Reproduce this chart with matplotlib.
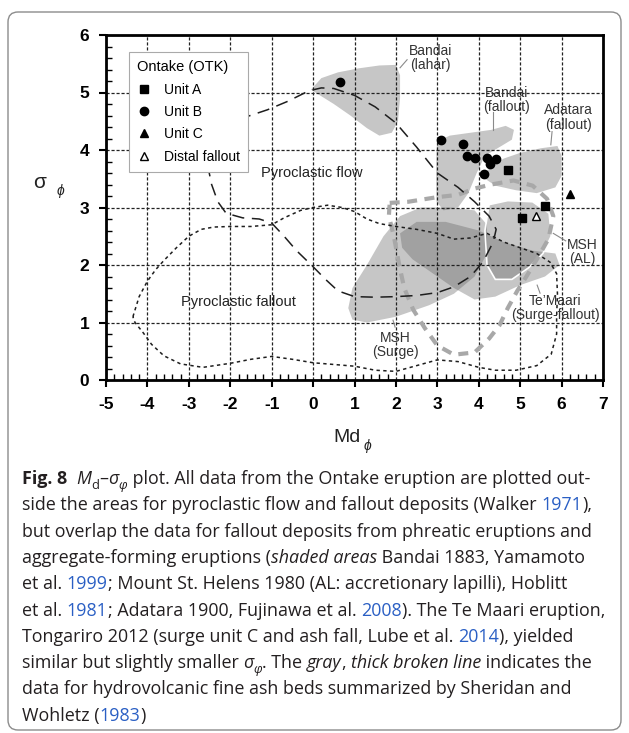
import matplotlib
matplotlib.use("Agg")
from matplotlib import pyplot as plt
from matplotlib.lines import Line2D
from matplotlib.patches import FancyBboxPatch
from matplotlib.ticker import MultipleLocator
from matplotlib.transforms import IdentityTransform

plt.rcParams['font.family'] = ['Liberation Sans', 'DejaVu Sans']

# Ontake samples (Md_phi, sigma_phi)
unit_a_md = [4.70, 5.59, 5.04]
unit_a_sd = [3.66, 3.03, 2.82]
unit_b_md = [0.65, 3.10, 3.62, 3.71, 3.91, 4.20, 4.28, 4.42, 4.13]
unit_b_sd = [5.19, 4.17, 4.10, 3.90, 3.86, 3.86, 3.76, 3.84, 3.59]
unit_c_md = [6.21]
unit_c_sd = [3.23]
distal_md = [5.39]
distal_sd = [2.86]

# shaded areas
lahar_md = [-0.05, 0.2, 0.6, 1.1, 1.6, 2.0, 2.1, 2.1, 2.05, 1.9, 1.6, 1.3, 0.9, 0.5, 0.1]
lahar_sd = [5.05, 5.25, 5.35, 5.42, 5.47, 5.48, 5.3, 4.9, 4.5, 4.3, 4.25, 4.38, 4.6, 4.8, 4.98]
bfall_md = [3.0, 3.3, 3.8, 4.3, 4.65, 4.85, 4.8, 4.5, 4.15, 3.95, 3.75, 3.5, 3.15, 2.98, 2.97, 2.98]
bfall_sd = [4.15, 4.25, 4.3, 4.35, 4.42, 4.35, 4.18, 4.05, 3.9, 3.6, 3.25, 3.0, 2.95, 3.1, 3.6, 4.0]
adatara_md = [4.05, 4.3, 4.6, 5.0, 5.5, 5.9, 6.0, 6.0, 5.85, 5.4, 4.9, 4.4]
adatara_sd = [3.55, 3.7, 3.85, 3.95, 4.03, 4.07, 3.9, 3.55, 3.35, 3.25, 3.3, 3.38]
surge_md = [0.85, 0.95, 1.3, 1.7, 2.1, 2.6, 3.3, 3.9, 4.2, 4.2, 3.9, 3.4, 2.8, 2.0, 1.3, 0.95]
surge_sd = [1.25, 1.6, 2.0, 2.5, 2.85, 3.0, 3.0, 2.95, 2.7, 2.2, 1.8, 1.5, 1.3, 1.1, 1.0, 1.05]
temaari_md = [2.1, 2.5, 3.2, 4.0, 4.6, 5.3, 5.85, 5.95, 5.6, 5.0, 4.4, 3.9, 3.4, 2.9, 2.4, 2.15]
temaari_sd = [2.55, 2.75, 2.75, 2.6, 2.4, 2.25, 2.2, 2.0, 1.8, 1.65, 1.45, 1.4, 1.6, 1.85, 2.1, 2.3]
al_md = [4.25, 4.7, 5.3, 5.7, 5.75, 5.55, 5.2, 4.8, 4.4, 4.2, 4.15]
al_sd = [3.05, 3.12, 3.1, 2.9, 2.5, 2.2, 1.95, 1.75, 1.75, 2.0, 2.6]

# Sheridan & Wohletz (1983) hydrovolcanic field
sw_md = [1.85, 2.3, 3.0, 3.5, 3.9, 4.3, 4.84, 5.3, 5.65, 5.8, 5.68, 5.42, 5.15, 4.93, 4.7, 4.5,
         4.25, 3.9, 3.4, 3.0, 2.7, 2.42, 2.2, 2.08, 1.95, 1.83, 1.85]
sw_sd = [3.08, 3.1, 3.18, 3.22, 3.33, 3.4, 3.47, 3.38, 3.15, 2.85, 2.45, 2.12, 1.8, 1.55, 1.25, 0.95,
         0.72, 0.48, 0.44, 0.6, 0.9, 1.22, 1.6, 2.0, 2.5, 2.85, 3.08]

# Walker (1971) fields
flow_md = [-2.55, -2.45, -2.3, -2.1, -1.7, -1.3, -1.0, -0.7, -0.4, 0.0, 0.3, 0.6, 1.0, 1.5, 2.0, 2.5,
           3.0, 3.4, 3.8, 4.1, 4.35, 4.42, 4.25, 3.9, 3.5, 3.0, 2.5, 2.0, 1.5, 1.0, 0.5, 0.2, -0.1,
           -0.6, -1.1, -1.6, -2.0, -2.4, -2.6, -2.55]
flow_sd = [3.75, 3.4, 3.1, 2.9, 2.82, 2.8, 2.73, 2.5, 2.25, 1.97, 1.75, 1.55, 1.45, 1.44, 1.45, 1.47,
           1.52, 1.62, 1.8, 2.05, 2.4, 2.62, 2.85, 3.1, 3.35, 3.6, 4.05, 4.47, 4.75, 4.95, 5.07, 5.08,
           5.03, 4.85, 4.7, 4.58, 4.45, 4.2, 3.95, 3.75]
fall_md = [-4.35, -4.2, -4.0, -3.8, -3.6, -3.3, -3.0, -2.7, -2.4, -2.0, -1.5, -1.0, -0.7, -0.3, 0.0,
           0.35, 0.7, 1.0, 1.3, 1.6, 2.0, 2.5, 3.0, 3.4, 3.8, 4.2, 4.6, 5.0, 5.4, 5.72, 5.88, 5.9,
           5.88, 5.88, 5.75, 5.4, 4.9, 4.4, 4.0, 3.5, 3.0, 2.5, 2.0, 1.5, 1.0, 0.5, 0.0, -0.5, -1.0,
           -1.5, -2.0, -2.66, -3.2, -3.6, -3.9, -4.1, -4.3, -4.35]
fall_sd = [1.1, 1.45, 1.72, 1.92, 2.08, 2.3, 2.5, 2.62, 2.66, 2.67, 2.67, 2.7, 2.82, 2.95, 3.0,
           3.04, 3.0, 2.93, 2.8, 2.72, 2.67, 2.62, 2.55, 2.45, 2.47, 2.55, 2.4, 2.3, 2.2, 2.05, 1.85, 1.5,
           1.1, 0.8, 0.45, 0.25, 0.17, 0.17, 0.22, 0.32, 0.35, 0.25, 0.15, 0.17, 0.24, 0.27, 0.3, 0.36, 0.41,
           0.36, 0.29, 0.22, 0.28, 0.42, 0.62, 0.82, 1.0, 1.1]

xticks = list(range(-5, 8))
yticks = list(range(0, 7))

fig = plt.figure(figsize=(6.29, 7.33), dpi=100)
ax = fig.add_axes([106 / 629, 1 - 380 / 733, 497 / 629, 345 / 733])

shade = (0.36, 0.36, 0.36, 0.35)
for mx, sy in [(lahar_md, lahar_sd), (bfall_md, bfall_sd), (adatara_md, adatara_sd),
               (surge_md, surge_sd), (temaari_md, temaari_sd)]:
    ax.fill(mx, sy, facecolor=shade, edgecolor='none', zorder=1)
ax.fill(al_md, al_sd, facecolor=shade, edgecolor='white', lw=1.2, zorder=1.1)

ax.plot(sw_md, sw_sd, color='#a8a8a8', lw=3, dashes=(2.4, 1.8), solid_capstyle='butt', zorder=2)
ax.plot(flow_md, flow_sd, color='#1e1e1e', lw=1.1, dashes=(8, 5), zorder=3)
ax.plot(fall_md, fall_sd, color='#1e1e1e', lw=1.1, dashes=(2.2, 2.2), zorder=3)

# leader lines
lead = dict(color='#8a8a8a', lw=0.8, zorder=3)
ax.plot([2.1, 2.27], [5.43, 5.57], **lead)
ax.plot([4.35, 4.35], [4.66, 4.35], **lead)
ax.plot([5.77, 5.74], [4.32, 4.09], **lead)
ax.plot([5.8, 6.1], [2.55, 2.42], **lead)
ax.plot([5.41, 5.48], [1.65, 1.51], **lead)
ax.plot([1.93, 1.98], [1.04, 0.92], **lead)

ms = 6
ax.plot(unit_a_md, unit_a_sd, 's', color='black', ms=ms, zorder=5, ls='none')
ax.plot(unit_b_md, unit_b_sd, 'o', color='black', ms=ms, zorder=5, ls='none')
ax.plot(unit_c_md, unit_c_sd, '^', color='black', ms=ms, zorder=5, ls='none')
ax.plot(distal_md, distal_sd, '^', mfc='white', mec='black', mew=1, ms=ms, zorder=5, ls='none')

tc = '#222222'
ax.text(-0.02, 3.6, "Pyroclastic flow", ha='center', va='center', fontsize=10.5, color=tc, zorder=4)
ax.text(-1.81, 1.36, "Pyroclastic fallout", ha='center', va='center', fontsize=10.5, color=tc, zorder=4)
lab = dict(ha='center', va='center', fontsize=10, color='#333333', linespacing=1.05, zorder=4)
ax.text(2.83, 5.6, "Bandai\n(lahar)", **lab)
ax.text(4.68, 4.87, "Bandai\n(fallout)", **lab)
ax.text(6.16, 4.57, "Adatara\n(fallout)", **lab)
ax.text(6.5, 2.23, "MSH\n(AL)", **lab)
ax.text(5.85, 1.25, "Te\u2019Maari\n(Surge-fallout)", **lab)
ax.text(1.98, 0.61, "MSH\n(Surge)", **lab)

ax.set_xlim(-5, 7)
ax.set_ylim(0, 6)
ax.set_xticks(xticks, labels=[str(v) for v in xticks], fontweight='bold', fontsize=12.5)
ax.set_yticks(yticks, labels=[str(v) for v in yticks], fontweight='bold', fontsize=12.5)
ax.xaxis.set_minor_locator(MultipleLocator(0.2))
ax.yaxis.set_minor_locator(MultipleLocator(0.2))
ax.tick_params(which='major', direction='out', length=5, width=1.5, pad=7)
ax.tick_params(which='minor', direction='in', length=4, width=1)
for sp in ax.spines.values():
    sp.set_linewidth(2)
ax.set_axisbelow('line')
ax.grid(True, which='major', color='#222222', lw=0.9, ls=(0, (2.5, 1.5)))

handles = [
    Line2D([], [], marker='s', color='black', ls='none', ms=ms),
    Line2D([], [], marker='o', color='black', ls='none', ms=ms),
    Line2D([], [], marker='^', color='black', ls='none', ms=ms),
    Line2D([], [], marker='^', mfc='white', mec='black', mew=1, ls='none', ms=ms),
]
leg = ax.legend(handles, ["Unit A", "Unit B", "Unit C", "Distal fallout"], title="Ontake (OTK)",
                loc='upper left', bbox_to_anchor=(0.032, 0.971), fancybox=False, framealpha=1,
                edgecolor='#aaaaaa', fontsize=10, title_fontsize=10.5, handlelength=1.0,
                handletextpad=0.9, labelspacing=0.6, borderpad=0.6)
leg._legend_box.align = 'left'
leg.get_frame().set_linewidth(0.8)
leg.set_zorder(6)

# axis labels
fig.text(361 / 629, 1 - 437 / 733, "Md", ha='right', va='center', fontsize=14, color=tc)
fig.text(364 / 629, 1 - 446 / 733, "\u03d5", ha='left', va='center', fontsize=10, color=tc,
         style='italic')
fig.text(40 / 629, 1 - 182 / 733, "\u03c3", ha='center', va='center', fontsize=15, color=tc)
fig.text(60 / 629, 1 - 191 / 733, "\u03d5", ha='center', va='center', fontsize=10, color=tc,
         style='italic')

# frame around figure and caption
fig.patches.append(FancyBboxPatch((8, 3), 613, 718, boxstyle='round,pad=0,rounding_size=10',
                                  transform=IdentityTransform(), fill=False, ec='#8c8c8c', lw=1))

cap_color = '#231f20'
link_color = '#2a5fc4'
caption = [
    [("Fig. 8", "b"), ("  ", "n"), ("M", "i"), ("d", "sub"), ("\u2013", "n"), ("\u03c3", "i"),
     ("\u03c6", "subi"), (" plot. All data from the Ontake eruption are plotted out-", "n")],
    [("side the areas for pyroclastic flow and fallout deposits (Walker ", "n"), ("1971", "l"), ("),", "n")],
    [("but overlap the data for fallout deposits from phreatic eruptions and", "n")],
    [("aggregate-forming eruptions (", "n"), ("shaded areas", "i"), (" Bandai 1883, Yamamoto", "n")],
    [("et al. ", "n"), ("1999", "l"), ("; Mount St. Helens 1980 (AL: accretionary lapilli), Hoblitt", "n")],
    [("et al. ", "n"), ("1981", "l"), ("; Adatara 1900, Fujinawa et al. ", "n"), ("2008", "l"),
     ("). The Te Maari eruption,", "n")],
    [("Tongariro 2012 (surge unit C and ash fall, Lube et al. ", "n"), ("2014", "l"), ("), yielded", "n")],
    [("similar but slightly smaller ", "n"), ("\u03c3", "i"), ("\u03c6", "subi"), (". The ", "n"),
     ("gray", "i"), (", ", "n"), ("thick broken line", "i"), (" indicates the", "n")],
    [("data for hydrovolcanic fine ash beds summarized by Sheridan and", "n")],
    [("Wohletz (", "n"), ("1983", "l"), (")", "n")],
]

renderer = fig.canvas.get_renderer()


def props(kind, size):
    p = dict(family=['Open Sans', 'DejaVu Sans'], color=cap_color, fontsize=size)
    if kind == 'b':
        p['fontweight'] = 'bold'
    if kind in ('i', 'subi'):
        p['style'] = 'italic'
    if kind == 'l':
        p['color'] = link_color
    if kind in ('sub', 'subi'):
        p['fontsize'] = size * 0.72
    return p


def width(s, kind, size):
    t1 = fig.text(0, 0, "x" + s + "x", **props(kind, size))
    w1 = t1.get_window_extent(renderer).width
    t1.remove()
    t2 = fig.text(0, 0, "xx", **props(kind, size))
    w2 = t2.get_window_extent(renderer).width
    t2.remove()
    return w1 - w2


base = 11.0
w6 = sum(width(s, k, base) for s, k in caption[5])
size = base * (607 - 22) / w6

for i, line in enumerate(caption):
    x = 22.0
    yb = 484 + 26.3 * i
    for s, k in line:
        dy = size * 0.3 * 100 / 72 if k in ('sub', 'subi') else 0
        fig.text(x / 629, 1 - (yb + dy) / 733, s, ha='left', va='baseline', **props(k, size))
        x += width(s, k, size)

fig.savefig('out.png', dpi=100)
